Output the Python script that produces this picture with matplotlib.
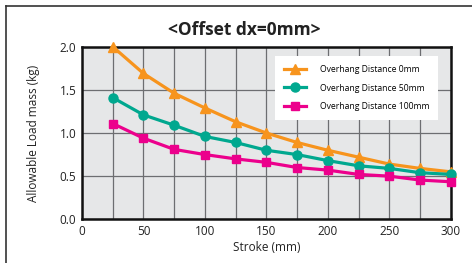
import matplotlib
matplotlib.use("Agg")
import matplotlib.pyplot as plt
from matplotlib.lines import Line2D
from matplotlib.font_manager import FontProperties

stroke = [25, 50, 75, 100, 125, 150, 175, 200, 225, 250, 275, 300]
od0 = [2.00, 1.69, 1.46, 1.29, 1.13, 1.00, 0.89, 0.80, 0.72, 0.64, 0.59, 0.55]
od50 = [1.41, 1.21, 1.09, 0.96, 0.89, 0.80, 0.75, 0.68, 0.62, 0.59, 0.54, 0.52]
od100 = [1.11, 0.94, 0.81, 0.75, 0.70, 0.66, 0.60, 0.57, 0.52, 0.50, 0.455, 0.435]
labels = ["Overhang Distance 0mm", "Overhang Distance 50mm", "Overhang Distance 100mm"]
yticks = [0.0, 0.5, 1.0, 1.5, 2.0]

plt.rcParams['font.family'] = ['Open Sans', 'DejaVu Sans']

W, H = 472, 263
fig = plt.figure(figsize=(W / 100, H / 100), dpi=100)
ax = fig.add_axes([82 / W, 1 - 219.3 / H, (450.7 - 82) / W, (219.3 - 46.7) / H])
ax.set_facecolor('#e6e7e8')

# outer border
fig.add_artist(Line2D([6 / W, 6 / W], [0, 1 - 6 / H], color='#333333', lw=1.2, transform=fig.transFigure))
fig.add_artist(Line2D([6 / W, 1], [1 - 6 / H, 1 - 6 / H], color='#333333', lw=1.2, transform=fig.transFigure))

colors = ['#f7941d', '#00a88f', '#ec008c']
markers = ['^', 'o', 's']
msizes = [6.5, 6.5, 6]
for ys, c, m, ms, lab in zip([od0, od50, od100], colors, markers, msizes, labels):
    ax.plot(stroke, ys, color=c, marker=m, markersize=ms, lw=2.3, label=lab, clip_on=False, zorder=3)

ax.set_xlim(0, 300)
ax.set_ylim(0, 2.0)
ax.set_xticks(range(0, 301, 25))
ax.set_xticklabels([str(v) if v % 50 == 0 else '' for v in range(0, 301, 25)], fontsize=8.5)
ax.set_yticks(yticks)
ax.set_yticklabels([f"{v:.1f}" for v in yticks], fontsize=8.5)
ax.tick_params(length=0, pad=4, colors='#222222')
ax.grid(True, color='#6d6e71', lw=0.9)
ax.set_axisbelow(True)
for s in ax.spines.values():
    s.set_linewidth(1.8)
    s.set_color('#111111')

ax.set_xlabel("Stroke (mm)", fontsize=8.5, labelpad=2, color='#222222')
ax.set_ylabel("Allowable Load mass (kg)", fontsize=8.5, labelpad=14, color='#222222')
fig.text(244 / W, 1 - 30 / H, "<Offset dx=0mm>", ha='center', va='center', fontsize=12.5, fontweight='bold', color='#222222')

legfont = FontProperties(family=['Open Sans', 'DejaVu Sans'], size=6.2)
leg = ax.legend(loc='upper left', bbox_to_anchor=((275 - 82) / (450.7 - 82), (219.3 - 56) / (219.3 - 46.7)),
                frameon=True, fancybox=False, framealpha=1, edgecolor='white', prop=legfont,
                handlelength=2.6, borderpad=1.0, labelspacing=1.15, handletextpad=1.6, borderaxespad=0)
leg.get_frame().set_linewidth(0)
leg.set_zorder(5)

fig.savefig("out.png", dpi=100)
